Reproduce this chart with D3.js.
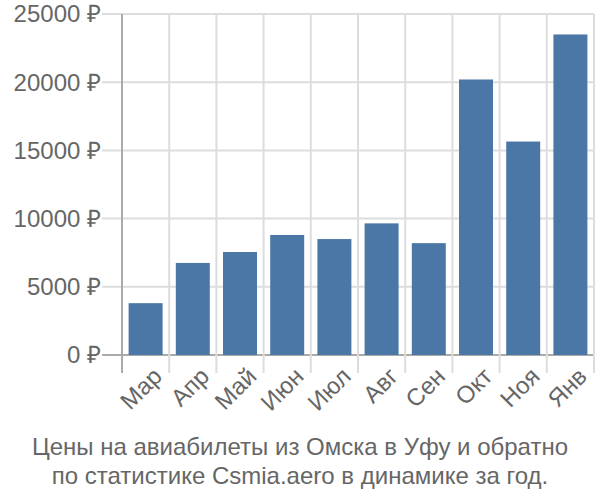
<!DOCTYPE html>
<html>
<head>
<meta charset="utf-8">
<script src="https://cdn.jsdelivr.net/npm/d3@7"></script>
<style>
  body { margin: 0; background: #fff; }
  text { font-family: "Liberation Sans", Arial, sans-serif; }
</style>
</head>
<body>
<script>
'use strict';
// chart data
const months = ["Мар", "Апр", "Май", "Июн", "Июл", "Авг", "Сен", "Окт", "Ноя", "Янв"];
const prices = [3800, 6750, 7550, 8800, 8500, 9650, 8200, 20200, 15650, 23500];
const yTicks = [0, 5000, 10000, 15000, 20000, 25000];
const titleLines = ["Цены на авиабилеты из Омска в Уфу и обратно",
                    "по статистике Csmia.aero в динамике за год."];

(function() {
    const left = 122, right = 594, top = 14, bottom = 355;

    let svg = d3.select('body')
        .append('svg')
        .attr('width', 600)
        .attr('height', 500);

    let x = d3.scaleBand()
        .domain(months)
        .range([left, right])
        .paddingInner(0.28)
        .paddingOuter(0.14);

    let y = d3.scaleLinear()
        .domain([0, 25000])
        .range([bottom, top]);

    // horizontal grid lines
    svg.append('g')
        .selectAll('line')
        .data(yTicks)
        .enter()
        .append('line')
        .attr('x1', left - 20)
        .attr('x2', right)
        .attr('y1', d => y(d))
        .attr('y2', d => y(d))
        .attr('stroke', d => d === 0 ? '#aaa' : '#ddd')
        .attr('stroke-width', 2);

    // vertical grid lines at band edges
    let step = x.step();
    let edges = d3.range(months.length + 1).map(i => left + i * step);
    svg.append('g')
        .selectAll('line')
        .data(edges.slice(1))
        .enter()
        .append('line')
        .attr('x1', d => d)
        .attr('x2', d => d)
        .attr('y1', top)
        .attr('y2', bottom + 18)
        .attr('stroke', '#ddd')
        .attr('stroke-width', 2);

    // bars
    svg.append('g')
        .selectAll('rect')
        .data(prices)
        .enter()
        .append('rect')
        .attr('x', (d, i) => x(months[i]))
        .attr('y', d => y(d))
        .attr('width', x.bandwidth())
        .attr('height', d => bottom - y(d))
        .attr('fill', '#4b77a6');

    // y axis line
    svg.append('line')
        .attr('x1', left)
        .attr('x2', left)
        .attr('y1', top)
        .attr('y2', bottom + 18)
        .attr('stroke', '#aaa')
        .attr('stroke-width', 2);

    // y tick labels
    svg.append('g')
        .selectAll('text')
        .data(yTicks)
        .enter()
        .append('text')
        .attr('x', left - 21)
        .attr('y', d => y(d))
        .attr('dy', '0.35em')
        .attr('text-anchor', 'end')
        .style('font-size', '24px')
        .attr('fill', '#666')
        .text(d => d + ' ₽');

    // x tick labels, rotated
    svg.append('g')
        .selectAll('text')
        .data(months)
        .enter()
        .append('text')
        .attr('transform', d => 'translate(' + (x(d) + x.bandwidth() / 2 + 6) + ',' + (bottom + 11) + ')rotate(-45)')
        .attr('text-anchor', 'end')
        .attr('dy', '0.7em')
        .style('font-size', '24px')
        .attr('fill', '#666')
        .text(d => d);

    // caption
    svg.append('g')
        .selectAll('text')
        .data(titleLines)
        .enter()
        .append('text')
        .attr('x', 300)
        .attr('y', (d, i) => 455 + i * 28.5)
        .attr('text-anchor', 'middle')
        .style('font-size', '24px')
        .attr('fill', '#666')
        .text(d => d);
})();
</script>
</body>
</html>
